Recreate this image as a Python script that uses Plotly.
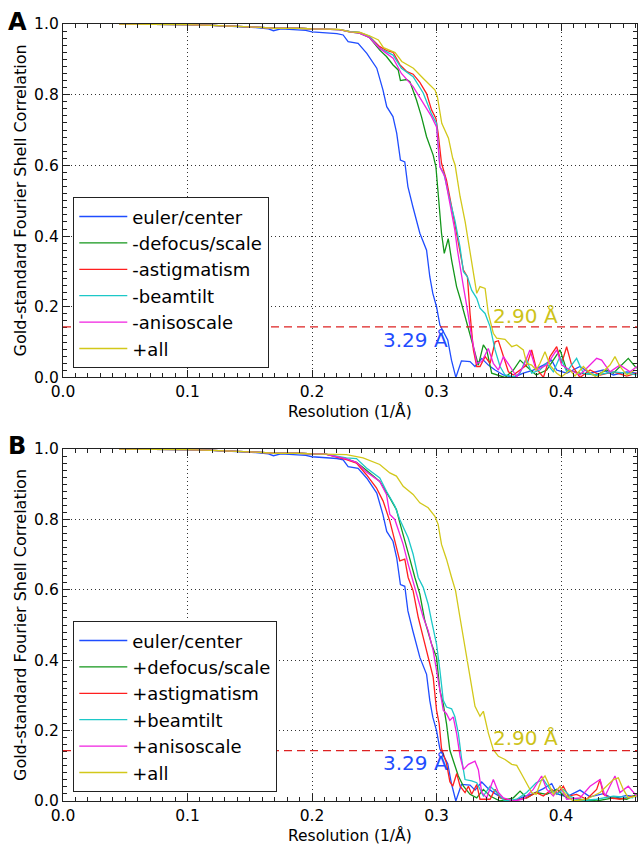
import plotly.graph_objects as go

FONT = "DejaVu Sans"
FSC_THRESHOLD = 0.143
RES_EULER = 3.29
RES_ALL = 2.90

# shared low-resolution plateau (all curves overlap here)
plateau_x = [0.045, 0.06, 0.08, 0.10, 0.12, 0.14, 0.155, 0.17, 0.18, 0.19, 0.20, 0.21]
plateau_y = [1.0, 1.0, 0.999, 0.998, 0.996, 0.994, 0.991, 0.988, 0.989, 0.988, 0.986, 0.986]

# euler/center (same curve in both panels)
euler_x = [0.045, 0.06, 0.08, 0.10, 0.12, 0.14, 0.155, 0.165, 0.169, 0.175, 0.185, 0.195, 0.200, 0.210,
           0.220, 0.225, 0.229, 0.237, 0.244, 0.252, 0.254, 0.257, 0.260, 0.265, 0.268, 0.271, 0.2745,
           0.277, 0.281, 0.2866, 0.292, 0.2946, 0.297, 0.300, 0.3027, 0.305, 0.309, 0.312, 0.3155, 0.320,
           0.3269, 0.3309, 0.3363, 0.3416, 0.347, 0.3537, 0.3617, 0.3697, 0.3777, 0.3858, 0.3925, 0.3965,
           0.4045, 0.4152, 0.4233, 0.434, 0.442, 0.4527, 0.4607]
euler_y = [1.0, 1.0, 0.999, 0.998, 0.996, 0.993, 0.990, 0.986, 0.981, 0.986, 0.985, 0.982, 0.978, 0.976,
           0.973, 0.969, 0.950, 0.945, 0.917, 0.875, 0.851, 0.813, 0.766, 0.738, 0.691, 0.615, 0.610,
           0.540, 0.483, 0.408, 0.360, 0.285, 0.238, 0.200, 0.148, 0.134, 0.106, 0.049, 0.0, 0.047,
           0.045, 0.031, 0.054, 0.035, 0.021, 0.007, 0.0, 0.012, 0.021, 0.035, 0.049, 0.021,
           0.012, 0.031, 0.012, 0.021, 0.007, 0.016, 0.012]

# ---------------- Panel A (remove one parameter) ----------------
a_defocus_x = [0.222, 0.230, 0.238, 0.246, 0.2544, 0.2598, 0.2651, 0.2692, 0.2710, 0.2759, 0.2786, 0.2839,
               0.2879, 0.2920, 0.2973, 0.2995, 0.3013, 0.3040, 0.3062, 0.3094, 0.3121, 0.3161, 0.3189,
               0.3229, 0.3269, 0.3309, 0.3336, 0.3376, 0.3403, 0.3443, 0.3483, 0.355, 0.3617, 0.3671,
               0.3724, 0.380, 0.3885, 0.3992, 0.4045, 0.4152, 0.4286, 0.4366, 0.442, 0.45, 0.454, 0.4607]
a_defocus_y = [0.984, 0.978, 0.974, 0.962, 0.926, 0.908, 0.884, 0.870, 0.840, 0.843, 0.837, 0.785,
               0.738, 0.681, 0.629, 0.596, 0.511, 0.408, 0.351, 0.393, 0.332, 0.257, 0.224,
               0.172, 0.125, 0.068, 0.035, 0.092, 0.078, 0.012, 0.007, 0.0, 0.021, 0.049,
               0.031, 0.007, 0.021, 0.078, 0.021, 0.012, 0.007, 0.021, 0.012, 0.040, 0.054, 0.026]

a_astig_x = [0.222, 0.230, 0.238, 0.246, 0.2544, 0.2598, 0.2651, 0.2705, 0.2762, 0.2812, 0.2866, 0.2920,
             0.2960, 0.2995, 0.3013, 0.3040, 0.3080, 0.3121, 0.3161, 0.3189, 0.3216, 0.3248, 0.3269,
             0.3296, 0.3323, 0.3349, 0.3390, 0.3430, 0.3470, 0.3497, 0.3537, 0.3577, 0.3617, 0.3671,
             0.3724, 0.3764, 0.3800, 0.3858, 0.3911, 0.3965, 0.4005, 0.4045, 0.4085, 0.4152, 0.4233,
             0.4313, 0.4420, 0.4527, 0.4607]
a_astig_y = [0.984, 0.979, 0.976, 0.965, 0.936, 0.925, 0.920, 0.885, 0.865, 0.858, 0.835, 0.803,
             0.757, 0.733, 0.691, 0.606, 0.558, 0.483, 0.408, 0.360, 0.304, 0.285, 0.181,
             0.078, 0.031, 0.031, 0.059, 0.040, 0.101, 0.104, 0.059, 0.016, 0.007, 0.021,
             0.035, 0.078, 0.026, 0.0, 0.059, 0.087, 0.040, 0.087, 0.035, 0.0, 0.021,
             0.007, 0.016, 0.004, 0.012]

a_beamtilt_x = [0.222, 0.230, 0.238, 0.246, 0.2544, 0.2651, 0.2718, 0.2812, 0.2893, 0.2960, 0.3000, 0.3027,
                0.3059, 0.3107, 0.3147, 0.3188, 0.3216, 0.3248, 0.3282, 0.3323, 0.3349, 0.3390, 0.3430,
                0.3470, 0.3510, 0.3550, 0.3617, 0.3670, 0.3720, 0.3764, 0.3830, 0.3885, 0.3938, 0.3992,
                0.4045, 0.4125, 0.4179, 0.4286, 0.4420, 0.4527, 0.4607]
a_beamtilt_y = [0.984, 0.979, 0.976, 0.965, 0.931, 0.912, 0.875, 0.851, 0.805, 0.745, 0.719, 0.596,
                0.577, 0.502, 0.445, 0.370, 0.299, 0.285, 0.247, 0.224, 0.196, 0.181, 0.144,
                0.078, 0.031, 0.007, 0.002, 0.012, 0.054, 0.012, 0.021, 0.040, 0.016, 0.059,
                0.016, 0.054, 0.012, 0.007, 0.016, 0.012, 0.007]

a_aniso_x = [0.222, 0.230, 0.238, 0.246, 0.2544, 0.2651, 0.2718, 0.2812, 0.2893, 0.2960, 0.3000, 0.3027,
             0.3067, 0.3107, 0.3147, 0.3168, 0.3189, 0.3216, 0.3248, 0.3282, 0.3323, 0.3363, 0.3416,
             0.3456, 0.3497, 0.3537, 0.3590, 0.3644, 0.3697, 0.3750, 0.3800, 0.3885, 0.3965, 0.4005,
             0.4072, 0.4152, 0.4286, 0.4326, 0.4393, 0.4473, 0.4554, 0.4610]
a_aniso_y = [0.984, 0.978, 0.974, 0.962, 0.931, 0.903, 0.860, 0.823, 0.775, 0.738, 0.709, 0.596,
             0.568, 0.492, 0.417, 0.360, 0.310, 0.257, 0.191, 0.115, 0.040, 0.045, 0.082,
             0.040, 0.021, 0.059, 0.031, 0.002, 0.031, 0.078, 0.021, 0.035, 0.078, 0.035,
             0.021, 0.007, 0.054, 0.049, 0.016, 0.035, 0.016, 0.031]

a_all_x = [0.222, 0.2305, 0.2386, 0.2466, 0.2533, 0.2574, 0.2667, 0.2721, 0.2814, 0.2894, 0.2988, 0.3007,
           0.3042, 0.3096, 0.3130, 0.3149, 0.3189, 0.3230, 0.3264, 0.3296, 0.3323, 0.3349, 0.3390, 0.3416,
           0.3456, 0.3483, 0.355, 0.3604, 0.3644, 0.3697, 0.3724, 0.3764, 0.380, 0.3831, 0.3871, 0.3911,
           0.3965, 0.4005, 0.4072, 0.4112, 0.4179, 0.4219, 0.4286, 0.4393, 0.4433, 0.4473, 0.4527, 0.4594]
a_all_y = [0.985, 0.978, 0.976, 0.966, 0.955, 0.933, 0.919, 0.894, 0.875, 0.846, 0.813, 0.794,
           0.719, 0.677, 0.620, 0.601, 0.512, 0.440, 0.361, 0.295, 0.238, 0.257, 0.252, 0.181,
           0.125, 0.111, 0.108, 0.087, 0.092, 0.078, 0.040, 0.035, 0.021, 0.040, 0.073, 0.035,
           0.012, 0.002, 0.021, 0.004, 0.031, 0.017, 0.0, 0.035, 0.059, 0.031, 0.007, 0.021]

# ---------------- Panel B (add one parameter) ----------------
b_defocus_x = [0.2276, 0.2357, 0.2437, 0.2544, 0.2625, 0.2678, 0.2705, 0.2745, 0.2786, 0.2826, 0.2866,
               0.2906, 0.2960, 0.3000, 0.3027, 0.3054, 0.3080, 0.3107, 0.3135, 0.3175, 0.3216, 0.3269,
               0.3323, 0.3376, 0.3430, 0.3510, 0.3617, 0.3671, 0.3724, 0.3800, 0.3885, 0.3965, 0.4045,
               0.4152, 0.4286, 0.4420, 0.4527, 0.4607]
b_defocus_y = [0.972, 0.962, 0.940, 0.908, 0.861, 0.828, 0.791, 0.743, 0.687, 0.635, 0.588,
               0.512, 0.446, 0.408, 0.314, 0.276, 0.220, 0.144, 0.114, 0.071, 0.042, 0.019,
               0.009, 0.033, 0.014, 0.0, 0.009, 0.028, 0.009, 0.024, 0.019, 0.033, 0.009,
               0.005, 0.0, 0.009, 0.005, 0.019]

b_astig_x = [0.2276, 0.2357, 0.2437, 0.2517, 0.2571, 0.2625, 0.2665, 0.2705, 0.2745, 0.2772, 0.2812,
             0.2853, 0.2893, 0.2933, 0.2973, 0.3000, 0.3021, 0.3040, 0.3080, 0.3107, 0.3130, 0.3162,
             0.3189, 0.3229, 0.3256, 0.3282, 0.3323, 0.3349, 0.3430, 0.3470, 0.3510, 0.3617, 0.3724,
             0.3800, 0.3858, 0.3925, 0.3965, 0.4018, 0.4059, 0.4125, 0.4206, 0.4286, 0.4313, 0.4340,
             0.4393, 0.4473, 0.4580]
b_astig_y = [0.970, 0.960, 0.927, 0.890, 0.852, 0.795, 0.739, 0.682, 0.687, 0.635, 0.597,
             0.522, 0.465, 0.408, 0.352, 0.258, 0.220, 0.149, 0.107, 0.055, 0.042, 0.078,
             0.042, 0.024, 0.042, 0.019, 0.047, 0.005, 0.005, 0.033, 0.009, 0.0, 0.009,
             0.024, 0.014, 0.033, 0.019, 0.042, 0.014, 0.019, 0.005, 0.033, 0.061, 0.019,
             0.009, 0.005, 0.014]

b_beamtilt_x = [0.2276, 0.2357, 0.2437, 0.2544, 0.2598, 0.2665, 0.2705, 0.2772, 0.2812, 0.2853, 0.2893,
                0.2933, 0.2960, 0.3000, 0.3027, 0.3054, 0.3080, 0.3121, 0.3147, 0.3175, 0.3202, 0.3229,
                0.3282, 0.3323, 0.3376, 0.3430, 0.3483, 0.3550, 0.3644, 0.3724, 0.3800, 0.3858, 0.3911,
                0.3965, 0.4018, 0.4072, 0.4152, 0.4286, 0.4420, 0.4580]
b_beamtilt_y = [0.975, 0.973, 0.946, 0.918, 0.880, 0.838, 0.800, 0.748, 0.701, 0.635, 0.607,
                0.559, 0.512, 0.446, 0.371, 0.286, 0.267, 0.262, 0.240, 0.193, 0.118, 0.061,
                0.057, 0.052, 0.014, 0.042, 0.024, 0.0, 0.005, 0.024, 0.052, 0.061, 0.033,
                0.019, 0.033, 0.014, 0.0, 0.005, 0.014, 0.009]

b_aniso_x = [0.2276, 0.2357, 0.2437, 0.2544, 0.2598, 0.2625, 0.2665, 0.2692, 0.2732, 0.2772, 0.2812,
             0.2853, 0.2893, 0.2933, 0.2973, 0.3000, 0.3027, 0.3054, 0.3080, 0.3107, 0.3134, 0.3162,
             0.3189, 0.3216, 0.3256, 0.3309, 0.3336, 0.3363, 0.3403, 0.3456, 0.3497, 0.3537, 0.3617,
             0.3697, 0.3777, 0.3844, 0.3885, 0.3938, 0.3992, 0.4045, 0.4152, 0.4233, 0.4313, 0.4353,
             0.4433, 0.4473, 0.4540, 0.4607]
b_aniso_y = [0.972, 0.962, 0.935, 0.908, 0.871, 0.814, 0.800, 0.772, 0.729, 0.673, 0.625,
             0.569, 0.522, 0.484, 0.427, 0.371, 0.314, 0.258, 0.248, 0.229, 0.239, 0.190,
             0.127, 0.089, 0.104, 0.113, 0.089, 0.024, 0.009, 0.061, 0.024, 0.009, 0.0,
             0.005, 0.033, 0.071, 0.033, 0.014, 0.042, 0.005, 0.009, 0.042, 0.061, 0.014,
             0.071, 0.024, 0.042, 0.014]

b_all_x = [0.2276, 0.2410, 0.2544, 0.2625, 0.2678, 0.2732, 0.2812, 0.2866, 0.2933, 0.2987, 0.3013,
           0.3040, 0.3080, 0.3121, 0.3153, 0.3188, 0.3230, 0.3269, 0.3309, 0.3349, 0.3376, 0.3416,
           0.3456, 0.3497, 0.3550, 0.3604, 0.3644, 0.3684, 0.3724, 0.3764, 0.3800, 0.3844, 0.3871,
           0.3911, 0.3938, 0.3992, 0.4045, 0.4099, 0.4206, 0.4313, 0.4420, 0.4460, 0.4500, 0.4540, 0.4607]
b_all_y = [0.984, 0.975, 0.956, 0.932, 0.923, 0.894, 0.871, 0.847, 0.833, 0.809, 0.786,
           0.729, 0.687, 0.635, 0.597, 0.522, 0.430, 0.345, 0.269, 0.241, 0.255, 0.193,
           0.146, 0.127, 0.118, 0.104, 0.101, 0.076, 0.052, 0.024, 0.019, 0.061, 0.071,
           0.042, 0.019, 0.042, 0.014, 0.0, 0.005, 0.024, 0.061, 0.066, 0.033, 0.009, 0.014]

names_a = ["euler/center", "-defocus/scale", "-astigmatism", "-beamtilt", "-anisoscale", "+all"]
names_b = ["euler/center", "+defocus/scale", "+astigmatism", "+beamtilt", "+anisoscale", "+all"]
colors = ["#1f4dff", "#12961a", "#ff1f1f", "#1cc8c8", "#f020e0", "#d2c81a"]

def full(xs, ys):
    assert len(xs) == len(ys), (len(xs), len(ys))
    return plateau_x + xs, plateau_y + ys

assert len(euler_x) == len(euler_y)
series_a = [(euler_x, euler_y), full(a_defocus_x, a_defocus_y), full(a_astig_x, a_astig_y),
            full(a_beamtilt_x, a_beamtilt_y), full(a_aniso_x, a_aniso_y), full(a_all_x, a_all_y)]
series_b = [(euler_x, euler_y), full(b_defocus_x, b_defocus_y), full(b_astig_x, b_astig_y),
            full(b_beamtilt_x, b_beamtilt_y), full(b_aniso_x, b_aniso_y), full(b_all_x, b_all_y)]

fig = go.Figure()
for (xs, ys), nm, col in zip(series_a, names_a, colors):
    fig.add_trace(go.Scatter(x=xs, y=ys, mode="lines", name=nm, line=dict(color=col, width=1.3),
                             xaxis="x", yaxis="y", legend="legend"))
for (xs, ys), nm, col in zip(series_b, names_b, colors):
    fig.add_trace(go.Scatter(x=xs, y=ys, mode="lines", name=nm, line=dict(color=col, width=1.3),
                             xaxis="x2", yaxis="y2", legend="legend2"))

AX = "#222222"
def xaxis(anchor):
    return dict(range=[0, 0.461], tick0=0, dtick=0.1, tickformat=".1f", ticks="inside", ticklen=7,
                tickcolor=AX, tickwidth=1, showline=True, linecolor=AX, linewidth=1.3, mirror="ticks",
                showgrid=True, gridcolor="#333333", gridwidth=1, griddash="1px,3px", zeroline=False,
                minor=dict(dtick=0.01, tick0=0, ticks="inside", ticklen=4, tickcolor=AX, showgrid=False),
                tickfont=dict(family=FONT, size=15.5, color="black"), anchor=anchor, automargin=False,
                domain=[0, 1])

def yaxis(anchor, dom):
    return dict(range=[0, 1], tick0=0, dtick=0.2, tickformat=".1f", ticks="inside", ticklen=7,
                tickcolor=AX, tickwidth=1, showline=True, linecolor=AX, linewidth=1.3, mirror="ticks",
                showgrid=True, gridcolor="#333333", gridwidth=1, griddash="1px,3px", zeroline=False,
                minor=dict(dtick=0.02, tick0=0, ticks="inside", ticklen=4, tickcolor=AX, showgrid=False),
                tickfont=dict(family=FONT, size=15.5, color="black"), anchor=anchor, automargin=False,
                domain=dom)

legend_common = dict(xanchor="left", yanchor="bottom", bgcolor="white", bordercolor=AX, borderwidth=1.3,
                     font=dict(family=FONT, size=18, color="black"), itemwidth=48, tracegroupgap=0)

fig.update_layout(
    width=639, height=845, margin=dict(l=63, r=2, t=24, b=44), paper_bgcolor="white", plot_bgcolor="white",
    font=dict(family=FONT, color="black"),
    xaxis=xaxis("y"), yaxis=yaxis("x", [0.5451, 1.0]),
    xaxis2=xaxis("y2"), yaxis2=yaxis("x2", [0.0, 0.4530]),
    legend=dict(x=0.0174, y=0.5573, **legend_common),
    legend2=dict(x=0.0174, y=0.0116, **legend_common),
    showlegend=True,
)

for yref in ["y", "y2"]:
    xr = "x domain" if yref == "y" else "x2 domain"
    fig.add_shape(type="line", xref=xr, x0=0, x1=1, yref=yref, y0=FSC_THRESHOLD, y1=FSC_THRESHOLD,
                  line=dict(color="#dd2222", width=1.3, dash="8px,5px"))

ann = []
for lab, yp in [("A", 1.0026), ("B", 0.4569)]:
    ann.append(dict(text="<b>%s</b>" % lab, x=-0.0801, y=yp, xref="paper", yref="paper", showarrow=False,
                    xanchor="center", yanchor="middle", font=dict(family=FONT, size=24, color="black")))
for yp in [0.773, 0.2265]:
    ann.append(dict(text="Gold-standard Fourier Shell Correlation", x=-0.0749, y=yp, xref="paper", yref="paper",
                    textangle=-90, showarrow=False, xanchor="center", yanchor="middle",
                    font=dict(family=FONT, size=16, color="black")))
for yp in [0.5019, -0.0438]:
    ann.append(dict(text="Resolution (1/Å)", x=0.5, y=yp, xref="paper", yref="paper", showarrow=False,
                    xanchor="center", yanchor="middle", font=dict(family=FONT, size=15.5, color="black")))
for xr, yr, y1, y2 in [("x", "y", 0.105, 0.175), ("x2", "y2", 0.109, 0.180)]:
    ann.append(dict(text="%.2f Å" % RES_EULER, x=0.2827, y=y1, xref=xr, yref=yr, showarrow=False,
                    xanchor="center", yanchor="middle", font=dict(family=FONT, size=20, color="#1f4dff")))
    ann.append(dict(text="%.2f Å" % RES_ALL, x=0.3711, y=y2, xref=xr, yref=yr, showarrow=False,
                    xanchor="center", yanchor="middle", font=dict(family=FONT, size=20, color="#cdc31a")))
fig.update_layout(annotations=ann)

fig.write_html("out.html", config={"displayModeBar": False},
               post_script="document.body.style.margin='0';document.body.style.overflow='hidden';")
